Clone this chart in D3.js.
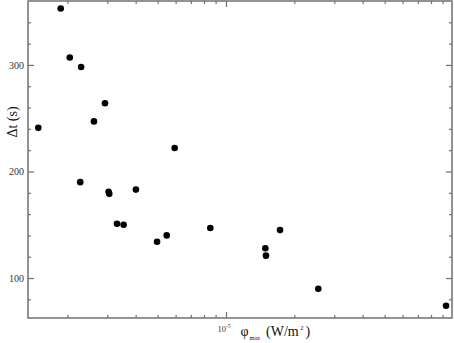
<!DOCTYPE html>
<html><head><meta charset="utf-8">
<script src="https://cdn.jsdelivr.net/npm/d3@7"></script>
<style>
html,body{margin:0;padding:0;background:#fff;}
svg{display:block;}
</style></head>
<body>
<svg id="chart" width="454" height="343"></svg>
<script>
// phi_max (W/m^2)
const phiMax = [1.49e-6, 1.87e-6, 2.05e-6, 2.30e-6, 2.93e-6, 2.62e-6, 2.28e-6,
  3.04e-6, 3.06e-6, 4.01e-6, 3.31e-6, 3.54e-6, 4.97e-6, 5.48e-6, 5.94e-6,
  8.53e-6, 1.49e-5, 1.50e-5, 1.73e-5, 2.55e-5, 9.32e-5];
// Delta t (s)
const deltaT = [241, 353, 307, 298, 264, 247, 190,
  181, 179, 183, 151, 150, 134, 140, 222,
  147, 128, 121, 145, 90, 74];
const xDomain = [1.342e-6, 9.9e-5];
const yDomain = [62.5, 360];
const yMajorTicks = [100, 200, 300];
const yMinorTicks = [80, 120, 140, 160, 180, 220, 240, 260, 280, 320, 340];
const xMajorTicks = [1e-5];
const xMinorTicks = [2e-6, 3e-6, 4e-6, 5e-6, 6e-6, 7e-6, 8e-6, 9e-6,
  2e-5, 3e-5, 4e-5, 5e-5, 6e-5, 7e-5, 8e-5, 9e-5];

const L = 28, R = 452, T = 1, B = 318;
const svg = d3.select("#chart");
const x = d3.scaleLog().domain(xDomain).range([L, R]);
const y = d3.scaleLinear().domain(yDomain).range([B, T]);
const axisColor = "#707070";
const serif = "'Liberation Serif', 'DejaVu Serif', serif";

function styleAxis(g) {
  g.select(".domain").remove();
  g.selectAll(".tick line").attr("stroke", axisColor).attr("stroke-width", 1.2);
  g.selectAll(".tick text").attr("fill", "#333").style("font-family", serif);
}

// left axis
svg.append("g").attr("transform", `translate(${L},0)`)
  .call(d3.axisLeft(y).tickValues(yMajorTicks).tickSizeInner(-6).tickSizeOuter(0).tickPadding(4))
  .call(styleAxis)
  .call(g => g.selectAll(".tick text").style("font-size", "10px"));
svg.append("g").attr("transform", `translate(${L},0)`)
  .call(d3.axisLeft(y).tickValues(yMinorTicks).tickSizeInner(-3).tickSizeOuter(0).tickFormat(""))
  .call(styleAxis);
// right axis
svg.append("g").attr("transform", `translate(${R},0)`)
  .call(d3.axisRight(y).tickValues(yMajorTicks).tickSizeInner(-6).tickSizeOuter(0).tickFormat(""))
  .call(styleAxis);
svg.append("g").attr("transform", `translate(${R},0)`)
  .call(d3.axisRight(y).tickValues(yMinorTicks).tickSizeInner(-3).tickSizeOuter(0).tickFormat(""))
  .call(styleAxis);
// bottom axis
svg.append("g").attr("transform", `translate(0,${B})`)
  .call(d3.axisBottom(x).tickValues(xMajorTicks).tickSizeInner(-6).tickSizeOuter(0).tickFormat(""))
  .call(styleAxis);
svg.append("g").attr("transform", `translate(0,${B})`)
  .call(d3.axisBottom(x).tickValues(xMinorTicks).tickSizeInner(-3).tickSizeOuter(0).tickFormat(""))
  .call(styleAxis);
// top axis
svg.append("g").attr("transform", `translate(0,${T})`)
  .call(d3.axisTop(x).tickValues(xMajorTicks).tickSizeInner(-6).tickSizeOuter(0).tickFormat(""))
  .call(styleAxis);
svg.append("g").attr("transform", `translate(0,${T})`)
  .call(d3.axisTop(x).tickValues(xMinorTicks).tickSizeInner(-3).tickSizeOuter(0).tickFormat(""))
  .call(styleAxis);

// frame
svg.append("rect").attr("x", L).attr("y", T).attr("width", R - L).attr("height", B - T)
  .attr("fill", "none").attr("stroke", axisColor).attr("stroke-width", 1.5);

// x tick label 10^-5
xMajorTicks.forEach(v => {
  const t = svg.append("text").attr("x", x(v) - 8.5).attr("y", 332)
    .style("font-family", serif).style("font-size", "8.5px").attr("fill", "#333");
  t.append("tspan").text("10");
  t.append("tspan").attr("dy", -4).style("font-size", "5.5px").text("-5");
});

// x axis label
const xl = svg.append("text").attr("x", 240.5).attr("y", 336)
  .style("font-family", serif).style("font-size", "14px").attr("fill", "#111");
xl.append("tspan").text("\u03C6");
xl.append("tspan").attr("dy", 4).attr("dx", 1).style("font-size", "6px").text("max");
xl.append("tspan").attr("dy", -4).attr("x", 266).text("(W/m");
xl.append("tspan").attr("dy", -6).attr("dx", 1.5).style("font-size", "6.5px").text("2");
xl.append("tspan").attr("dy", 6).attr("dx", 2).text(")");

// y axis label
svg.append("text").attr("transform", "translate(17,122) rotate(-90)")
  .attr("text-anchor", "middle")
  .style("font-family", serif).style("font-size", "14px").attr("fill", "#111")
  .text("\u0394t (s)");

// points
svg.append("g").selectAll("circle")
  .data(phiMax.map((p, i) => [p, deltaT[i]]))
  .join("circle")
  .attr("cx", d => x(d[0])).attr("cy", d => y(d[1]))
  .attr("r", 3.3).attr("fill", "#000");
</script>
</body></html>
